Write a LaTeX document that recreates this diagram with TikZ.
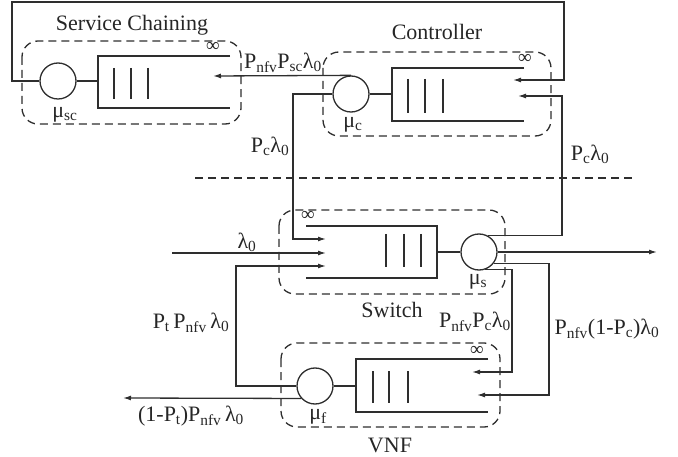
\documentclass[tikz,border=0pt]{standalone}
\usepackage{fontspec}
\setmainfont{Liberation Serif}
\usetikzlibrary{arrows.meta}
\newcommand{\sbs}[1]{\textsubscript{#1}}
\begin{document}
\begin{tikzpicture}[x=1pt,y=-1pt,line width=1.3pt,color=black!82,
  srv/.style={circle,draw,line width=1.3pt,minimum size=36pt,inner sep=0pt},
  grp/.style={draw,dash pattern=on 8pt off 5pt,rounded corners=16pt},
  lbl/.style={font=\fontsize{22}{25}\selectfont,inner sep=0pt,text=black!85},
  inf/.style={font=\fontsize{19}{22}\selectfont,inner sep=0pt,text=black!85},
  arr/.style={-{Latex[length=8pt,width=5pt]}}]
\useasboundingbox (0,0) rectangle (678,457);

% ---------- servers
\node[srv] (sc) at (58,81) {};
\node[srv] (c) at (351,94) {};
\node[srv] (s) at (479,252) {};
\node[srv] (f) at (315,386) {};

% ---------- queues
\draw (230,56) -- (98,56) -- (98,108) -- (230,108);
\foreach \x in {114,131,148} \draw (\x,68) -- (\x,99);
\draw (524,68) -- (392,68) -- (392,121) -- (524,121);
\foreach \x in {408,425,443} \draw (\x,79) -- (\x,113);
\draw (306,226) -- (437,226) -- (437,278) -- (306,278);
\foreach \x in {386,404,421} \draw (\x,234) -- (\x,267);
\draw (488,359) -- (356,359) -- (356,412) -- (488,412);
\foreach \x in {373,389,408} \draw (\x,371) -- (\x,403);

\coordinate (scq) at (98,81);
\coordinate (cq) at (392,94);
\coordinate (sq) at (437,252);
\coordinate (fq) at (356,386);
\draw (sc.east) -- (scq);
\draw (c.east) -- (cq);
\draw (sq) -- (s.west);
\draw (f.east) -- (fq);

% ---------- infinity marks
\node[inf] (i1) at (213,47) {∞};
\node[inf] (i2) at (525,59) {∞};
\node[inf] (i3) at (308,216) {∞};
\node[inf] (i4) at (477,351) {∞};

% ---------- dashed groups
\draw[grp] (22,41) rectangle (241,124);
\draw[grp] (323,52) rectangle (551,136);
\draw[grp] (279,210) rectangle (505,294);
\draw[grp] (281,343) rectangle (500,427);
\draw[dash pattern=on 8pt off 5pt] (195,178) -- (635,178);

% ---------- connector endpoints
\coordinate (tl) at (12,2);
\coordinate (tr) at (564,2);
\coordinate (cin1) at (513,80);
\coordinate (cin2) at (518,96);
\coordinate (cr2) at (562,96);
\coordinate (scin) at (213,76);
\coordinate (cl) at (293,94);
\coordinate (sin1) at (326,239);
\coordinate (sin2) at (326,253);
\coordinate (sin3) at (326,266);
\coordinate (lam) at (172,253);
\coordinate (fl) at (236,266);
\coordinate (out) at (657,252);
\coordinate (fr1) at (512,372);
\coordinate (fin1) at (472,372);
\coordinate (fr2) at (549,395);
\coordinate (fin2) at (477,395);
\coordinate (fout) at (123,398);

% ---------- connectors
\draw[arr] (sc.west) -| (tl) -| (tr |- cin1) -- (cin1);
\draw[arr] (c.north) -- (scin);
\draw[arr] (c.west) -| (cl |- sin1) -- (sin1);
\draw[arr] (lam) -- (sin2);
\draw[arr] (f.west) -| (fl) -- (sin3);
\draw[arr] (s.60) -| (cr2) -- (cin2);
\draw[arr] (s.east) -- (out);
\draw[arr] (s.-72) -| (fr1) -- (fin1);
\draw[arr] (s.-38) -| (fr2) -- (fin2);
\draw[arr] (f.-138) -- (fout);

% ---------- labels
\node[lbl] (lsc) at (132,25) {Service Chaining};
\node[lbl] (lc) at (437,32) {Controller};
\node[lbl] (ls) at (392,310) {Switch};
\node[lbl] (lf) at (390,445) {VNF};
\node[lbl] (msc) at (65,115) {μ\sbs{sc}};
\node[lbl] (mc) at (353,125) {μ\sbs{c}};
\node[lbl] (ms) at (478,282) {μ\sbs{s}};
\node[lbl] (mf) at (318,417) {μ\sbs{f}};
\node[lbl] (r1) at (283,63) {P\sbs{nfv}P\sbs{sc}λ\sbs{0}};
\node[lbl] (r2) at (270,146) {P\sbs{c}λ\sbs{0}};
\node[lbl] (r3) at (590,154) {P\sbs{c}λ\sbs{0}};
\node[lbl] (r4) at (247,242) {λ\sbs{0}};
\node[lbl] (r5) at (191,323) {P\sbs{t}\,P\sbs{nfv}\,λ\sbs{0}};
\node[lbl] (r6) at (191,416) {(1-P\sbs{t})P\sbs{nfv}\,λ\sbs{0}};
\node[lbl] (r7) at (475,322) {P\sbs{nfv}P\sbs{c}λ\sbs{0}};
\node[lbl] (r8) at (607,329) {P\sbs{nfv}(1-P\sbs{c})λ\sbs{0}};
\end{tikzpicture}
\end{document}
